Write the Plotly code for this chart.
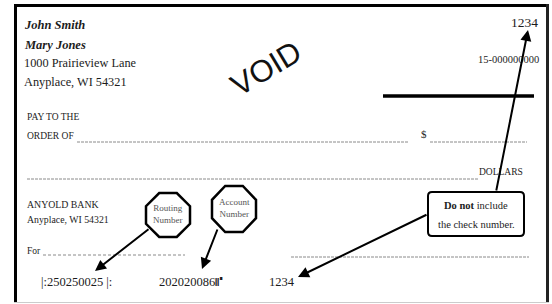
import plotly.graph_objects as go

# ---- content ----
payer_lines = ["John Smith", "Mary Jones", "1000 Prairieview Lane", "Anyplace, WI 54321"]
payer_bold = [True, True, False, False]
check_number = "1234"
fraction_code = "15-000000000"
void_text = "VOID"
pay_lines = ["PAY TO THE", "ORDER OF"]
dollar_sign = "$"
dollars_label = "DOLLARS"
bank_lines = ["ANYOLD BANK", "Anyplace, WI 54321"]
memo_label = "For"
routing_number = "250250025"
account_number = "202020086"
octagon_labels = ["Routing<br>Number", "Account<br>Number"]
note_lines = ["<b>Do not</b> include", "the check number."]

SERIF = "'Liberation Serif', 'Times New Roman', Times, serif"
SANS = "'Liberation Sans', Arial, sans-serif"
INK = "#1c1c1c"
GREY = "#8a8a8a"

fig = go.Figure()
fig.add_trace(go.Scatter(x=[0], y=[0], mode="markers", marker=dict(opacity=0), hoverinfo="skip"))
fig.update_layout(
    width=552, height=304, margin=dict(l=0, r=0, t=0, b=0),
    paper_bgcolor="white", plot_bgcolor="white", showlegend=False,
    font=dict(family=SERIF),
    xaxis=dict(range=[0, 552], visible=False, fixedrange=True),
    yaxis=dict(range=[304, 0], visible=False, fixedrange=True),
)


def text(x, y, s, size, anchor="left", color=INK, family=SERIF, angle=0):
    fig.add_annotation(x=x, y=y, text=s, showarrow=False, xanchor=anchor, yanchor="middle",
                       font=dict(family=family, size=size, color=color), textangle=angle,
                       borderpad=0)


def line(x0, y0, x1, y1, color=INK, width=1, dash="solid"):
    fig.add_shape(type="line", x0=x0, y0=y0, x1=x1, y1=y1, xref="x", yref="y",
                  line=dict(color=color, width=width, dash=dash))


def arrow(x0, y0, x1, y1):
    fig.add_annotation(x=x1, y=y1, ax=x0, ay=y0, xref="x", yref="y", axref="x", ayref="y",
                       text="", showarrow=True, arrowhead=2, arrowsize=1.1, arrowwidth=2,
                       arrowcolor="black", standoff=0)


def octagon(cx, cy, w, h):
    c = 0.3
    xs = [cx - w / 2 + c * w, cx + w / 2 - c * w, cx + w / 2, cx + w / 2,
          cx + w / 2 - c * w, cx - w / 2 + c * w, cx - w / 2, cx - w / 2]
    ys = [cy - h / 2, cy - h / 2, cy - h / 2 + c * h, cy + h / 2 - c * h,
          cy + h / 2, cy + h / 2, cy + h / 2 - c * h, cy - h / 2 + c * h]
    path = "M " + " L ".join(f"{x},{y}" for x, y in zip(xs, ys)) + " Z"
    fig.add_shape(type="path", path=path, xref="x", yref="y",
                  line=dict(color="black", width=2.5), fillcolor="white")


# ---- check border ----
line(15.5, 4, 15.5, 302, "black", 3)
line(14, 5.5, 549, 5.5, "black", 3)
line(547.5, 4, 547.5, 302, "#222", 3)
line(14, 302.5, 549, 302.5, "#cccccc", 1)

# ---- payer block ----
ys = [25, 45, 63, 82]
for s, b, y in zip(payer_lines, payer_bold, ys):
    if b:
        text(23, y, f"<b><i>{s}</i></b>", 12.5)
    else:
        text(23, y, s, 12.3)

# VOID
text(266, 68, void_text, 31, anchor="center", family=SANS, color="#111", angle=-31)

# check number + fraction code
text(539, 22, check_number, 13.5, anchor="right")
text(540, 59, fraction_code, 10.5, anchor="right")
line(383, 96, 534, 96, "black", 3.5)

# pay to the order of
text(26, 117, pay_lines[0], 9.5)
text(26, 136, pay_lines[1], 9.5)
line(77, 142, 408, 142, GREY, 1, "3px,1px")
text(428, 134, dollar_sign, 11, anchor="right")
line(430, 142, 527, 142, GREY, 1, "3px,1px")

# amount line
line(27, 179, 479, 179, GREY, 1, "3px,1px")
text(524, 172, dollars_label, 9.5, anchor="right")

# bank block
text(26, 204, bank_lines[0], 9.8)
text(26, 219, bank_lines[1], 9.8)
text(26, 251, memo_label, 9.5)
line(43, 255, 185, 255, GREY, 1, "3px,2px")
line(291, 257, 529, 257, GREY, 1, "3px,1px")

# MICR line
text(40, 282, "|:" + routing_number + " |:", 12.5)
text(158, 282, account_number + "\u2448", 12.5)
text(268, 282, check_number, 12.5)

# octagon callouts
octs = [(168, 215, 44, 44), (234, 209, 44, 46)]
for (cx, cy, w, h), lab in zip(octs, octagon_labels):
    octagon(cx, cy, w, h)
    text(cx, cy - 1, lab, 9, anchor="center", color="#555")

# note box
fig.add_shape(type="path",
              path="M 432,192 L 520,192 Q 524,192 524,196 L 524,232 Q 524,236 520,236 "
                   "L 432,236 Q 428,236 428,232 L 428,196 Q 428,192 432,192 Z",
              xref="x", yref="y", line=dict(color="black", width=2), fillcolor="white")
text(476, 205, note_lines[0], 10.5, anchor="center")
text(476, 224, note_lines[1], 10.5, anchor="center")

# arrows
arrow(150, 228, 95, 271)
arrow(218, 228, 202, 269)
arrow(428, 214, 298, 277)
arrow(496, 192, 528, 30)

fig.write_html("out.html", config={"displayModeBar": False},
               post_script="document.body.style.margin='0';document.body.style.overflow='hidden';")
